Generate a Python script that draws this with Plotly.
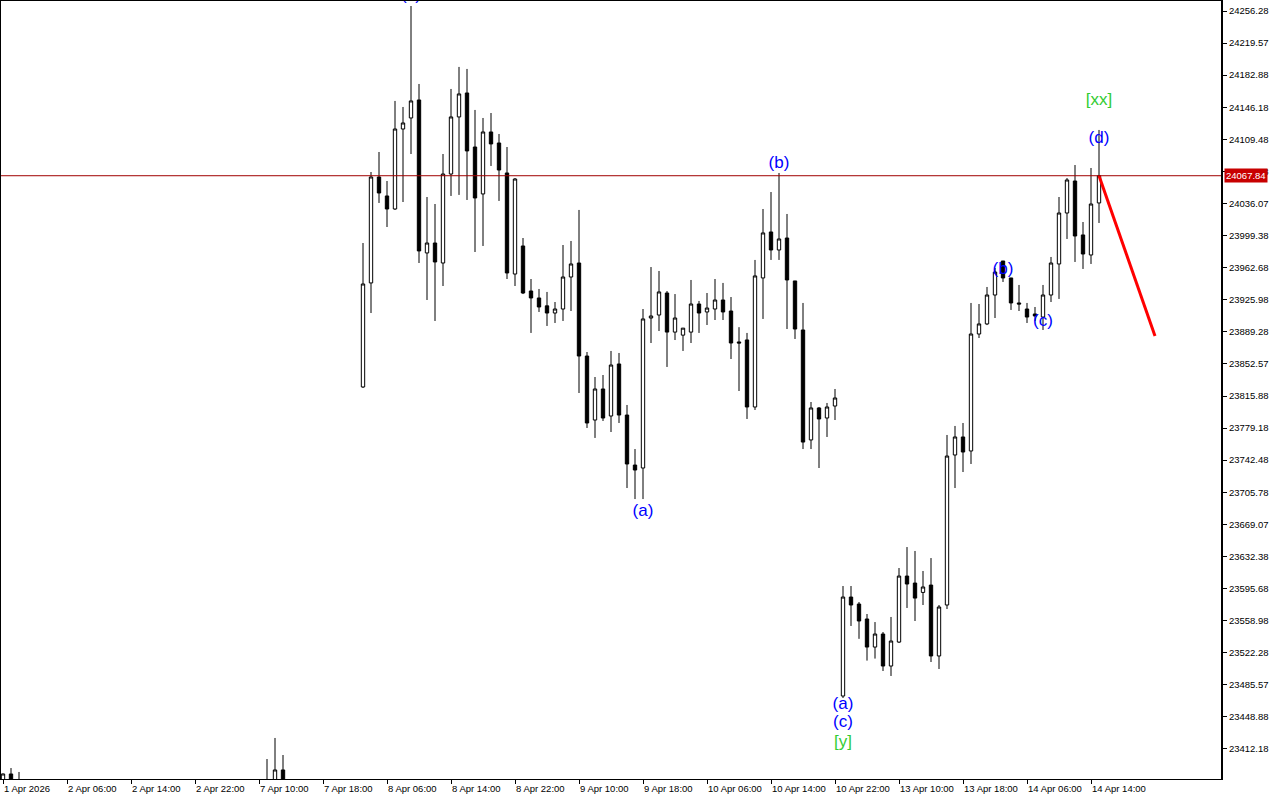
import plotly.graph_objects as go

# hourly bars (index on the chart's time axis)
bars = [0, 1, 2, 33, 34, 35] + list(range(45, 138))

opens = [23360.0, 23383.5, 23360.0, 23340.0, 23350.0, 23388.1,
         23826.2, 23945.2, 24066.4, 24044.7, 24029.8, 24121.3, 24133.9, 24154.5, 23979.5, 23990.9,
         23968.0, 24069.8, 24135.1, 24162.5, 24100.7, 24047.0, 24117.9, 24105.3, 24071.0, 23955.4,
         23987.5, 23936.0, 23928.0, 23919.0, 23910.8, 23915.4, 23952.0, 23968.0, 23861.6, 23788.4,
         23823.9, 23793.0, 23852.5, 23794.1, 23736.9, 23733.5, 23905.1, 23908.5, 23933.7, 23889.0,
         23885.5, 23889.0, 23921.1, 23912.0, 23915.4, 23925.7, 23913.1, 23877.7, 23880.0, 23803.3,
         23950.9, 24003.5, 23982.9, 23996.6, 23947.5, 23891.4, 23765.6, 23802.2, 23790.7, 23804.4,
         23472.7, 23585.9, 23577.9, 23560.8, 23528.7, 23543.6, 23507.0, 23534.4, 23609.9, 23601.9,
         23591.2, 23599.6, 23518.5, 23576.8, 23748.4, 23769.0, 23753.0, 23886.8, 23898.3, 23931.4,
         23970.3, 23950.9, 23922.3, 23915.4, 23909.7, 23906.2, 23931.4, 23966.9, 24025.2, 24061.8,
         24000.1, 23977.2, 24036.7]
highs = [23384.0, 23390.3, 23385.8, 23400.6, 23424.7, 23405.2,
         23990.9, 24072.1, 24095.0, 24061.8, 24153.4, 24146.5, 24262.0, 24172.8, 24043.5, 24035.5,
         24092.7, 24167.1, 24192.3, 24190.0, 24143.1, 24133.9, 24139.6, 24115.6, 24100.7, 24065.2,
         23996.6, 23949.7, 23938.3, 23934.9, 23923.4, 23988.6, 23993.2, 24028.7, 23866.2, 23837.6,
         23839.9, 23867.4, 23865.1, 23805.6, 23755.2, 23915.4, 23963.4, 23958.9, 23936.0, 23932.5,
         23893.5, 23948.6, 23924.6, 23933.7, 23949.7, 23945.2, 23929.1, 23894.6, 23888.0, 23971.5,
         24029.8, 24049.2, 24071.0, 24024.1, 23947.5, 23922.3, 23809.0, 23803.3, 23807.9, 23823.9,
         23598.5, 23598.5, 23580.2, 23566.5, 23557.3, 23545.9, 23563.1, 23619.1, 23643.1, 23638.6,
         23615.7, 23630.5, 23576.8, 23771.3, 23781.6, 23785.0, 23922.3, 23921.1, 23940.6, 23962.3,
         23970.3, 23950.9, 23942.9, 23922.3, 23917.7, 23942.9, 23974.9, 24043.5, 24065.2, 24080.1,
         24014.9, 24076.7, 24120.2]
lows = [23340.0, 23330.0, 23340.0, 23320.0, 23330.0, 23340.0,
        23825.0, 23910.8, 24036.7, 24009.2, 24028.7, 24037.8, 24092.7, 23968.0, 23925.7, 23901.7,
        23941.7, 24044.7, 24045.9, 24040.1, 23980.6, 23987.5, 24079.0, 24039.0, 23949.7, 23941.7,
        23932.5, 23888.0, 23912.0, 23896.0, 23899.4, 23901.7, 23913.1, 23819.3, 23779.3, 23767.9,
        23787.3, 23774.7, 23785.0, 23710.6, 23698.0, 23698.0, 23876.5, 23890.2, 23849.1, 23879.9,
        23867.4, 23876.5, 23888.0, 23897.1, 23902.8, 23902.8, 23858.2, 23821.6, 23789.6, 23799.9,
        23904.0, 23971.5, 23971.5, 23892.5, 23881.1, 23755.2, 23755.2, 23733.5, 23769.0, 23788.4,
        23470.4, 23552.8, 23538.1, 23513.2, 23515.5, 23501.3, 23495.6, 23533.3, 23573.4, 23558.5,
        23576.8, 23511.6, 23503.6, 23572.2, 23710.6, 23728.9, 23738.1, 23882.2, 23897.0, 23905.1,
        23946.3, 23914.3, 23913.1, 23899.4, 23901.7, 23891.4, 23923.4, 23926.9, 23995.5, 23969.2,
        23961.2, 23966.9, 24013.8]
closes = [23383.5, 23350.0, 23355.0, 23355.0, 23388.1, 23360.0,
          23944.0, 24066.4, 24048.1, 24029.8, 24121.3, 24128.2, 24153.4, 23981.8, 23990.9, 23969.2,
          24069.8, 24135.1, 24161.4, 24096.2, 24042.4, 24117.9, 24104.2, 24074.4, 23956.6, 24064.1,
          23933.7, 23928.0, 23917.7, 23910.8, 23915.4, 23952.0, 23966.9, 23861.6, 23785.0, 23823.9,
          23790.7, 23851.3, 23794.1, 23738.1, 23731.2, 23904.0, 23907.4, 23934.9, 23889.0, 23905.1,
          23893.5, 23921.1, 23910.8, 23916.5, 23925.7, 23912.0, 23876.5, 23876.5, 23803.3, 23953.2,
          24002.4, 23982.9, 23995.5, 23948.6, 23892.5, 23763.2, 23802.2, 23789.6, 23803.3, 23813.6,
          23585.9, 23576.8, 23558.5, 23528.7, 23543.6, 23507.0, 23535.6, 23609.9, 23600.8, 23584.7,
          23597.4, 23518.5, 23574.5, 23747.2, 23769.0, 23751.8, 23886.8, 23898.3, 23931.4, 23957.7,
          23950.9, 23922.3, 23921.1, 23906.2, 23907.4, 23931.4, 23968.0, 24025.2, 24063.0, 23998.9,
          23978.3, 24035.5, 24067.84]

last_price = 24067.84

# projected move drawn from the last bar
forecast_bars = [137, 144]
forecast_prices = [24067.84, 23884.5]

# wave labels
label_text = ["(x)", "(a)", "(b)", "(a)", "(c)", "[y]", "(b)", "(c)", "(d)", "[xx]"]
label_bars = [51, 80, 97, 105, 105, 105, 125, 130, 137, 137]
label_prices = [24273.5, 23683.2, 24081.3, 23462.4, 23441.8, 23419.1, 23960.0, 23900.5, 24109.9, 24153.3]
label_colors = ["#0000ff", "#0000ff", "#0000ff", "#0000ff", "#0000ff", "#33cc33",
                "#0000ff", "#0000ff", "#0000ff", "#33cc33"]

# time axis labels, one every 8 bars
time_ticks = list(range(0, 137, 8))
time_labels = ["1 Apr 2026", "2 Apr 06:00", "2 Apr 14:00", "2 Apr 22:00", "7 Apr 10:00",
               "7 Apr 18:00", "8 Apr 06:00", "8 Apr 14:00", "8 Apr 22:00", "9 Apr 10:00",
               "9 Apr 18:00", "10 Apr 06:00", "10 Apr 14:00", "10 Apr 22:00", "13 Apr 10:00",
               "13 Apr 18:00", "14 Apr 06:00", "14 Apr 14:00"]

price_ticks = [24256.28, 24219.57, 24182.88, 24146.18, 24109.48, 24072.78, 24036.07, 23999.38,
               23962.68, 23925.98, 23889.28, 23852.57, 23815.88, 23779.18, 23742.48, 23705.78,
               23669.07, 23632.38, 23595.68, 23558.98, 23522.28, 23485.57, 23448.88, 23412.18]

axis_font = dict(family="Liberation Sans, Arial, sans-serif", size=9.5, color="black")

fig = go.Figure()

fig.add_trace(go.Candlestick(
    x=bars, open=opens, high=highs, low=lows, close=closes,
    increasing=dict(line=dict(color="black", width=1), fillcolor="white"),
    decreasing=dict(line=dict(color="black", width=1), fillcolor="black"),
    whiskerwidth=0,
    hoverinfo="skip",
))

fig.add_trace(go.Scatter(
    x=forecast_bars, y=forecast_prices, mode="lines",
    line=dict(color="#ff0000", width=3), hoverinfo="skip",
))

fig.add_trace(go.Scatter(
    x=label_bars, y=label_prices, mode="text", text=label_text,
    textposition="middle center",
    textfont=dict(family="Liberation Sans, Arial, sans-serif", size=17, color=label_colors),
    cliponaxis=True, hoverinfo="skip",
))

# current price line + marker on the price scale
fig.add_hline(y=last_price, line=dict(color="#a00000", width=1))
fig.add_annotation(
    x=1, xref="paper", y=last_price, yref="y", xanchor="left", yanchor="middle",
    xshift=2, text="24067.84", showarrow=False,
    font=dict(family="Liberation Sans, Arial, sans-serif", size=9.5, color="white"),
    bgcolor="#c80000", borderpad=1,
)

# left-aligned time labels like the terminal draws them
for tb, tl in zip(time_ticks, time_labels):
    fig.add_annotation(
        x=tb, xref="x", y=0, yref="paper", xanchor="left", yanchor="top",
        xshift=-1, yshift=-2, text=tl, showarrow=False, font=axis_font,
    )

# heavier price-scale border
fig.add_shape(type="line", xref="paper", yref="paper", x0=1, x1=1, y0=0, y1=1,
              line=dict(color="black", width=2))

fig.update_layout(
    width=1280, height=800,
    margin=dict(l=1, r=58, t=1, b=21),
    paper_bgcolor="white", plot_bgcolor="white",
    showlegend=False, hovermode=False,
    boxgap=0.4,
    xaxis=dict(
        range=[-0.25, 152.375], rangeslider=dict(visible=False),
        showgrid=False, zeroline=False,
        showline=True, linecolor="black", linewidth=1, mirror=True,
        tickvals=time_ticks, ticks="outside", ticklen=4, tickcolor="black",
        showticklabels=False,
    ),
    yaxis=dict(
        range=[23377.76, 24267.72], side="right",
        showgrid=False, zeroline=False,
        showline=True, linecolor="black", linewidth=1, mirror=True,
        tickvals=price_ticks, ticktext=[f"{p:.2f}" for p in price_ticks],
        ticks="outside", ticklen=4, tickcolor="black", tickfont=axis_font,
    ),
)

# the page's default body margin would shift the chart by 8px
fig.write_html("out.html", config={"displayModeBar": False},
               post_script="document.body.style.margin='0';")
